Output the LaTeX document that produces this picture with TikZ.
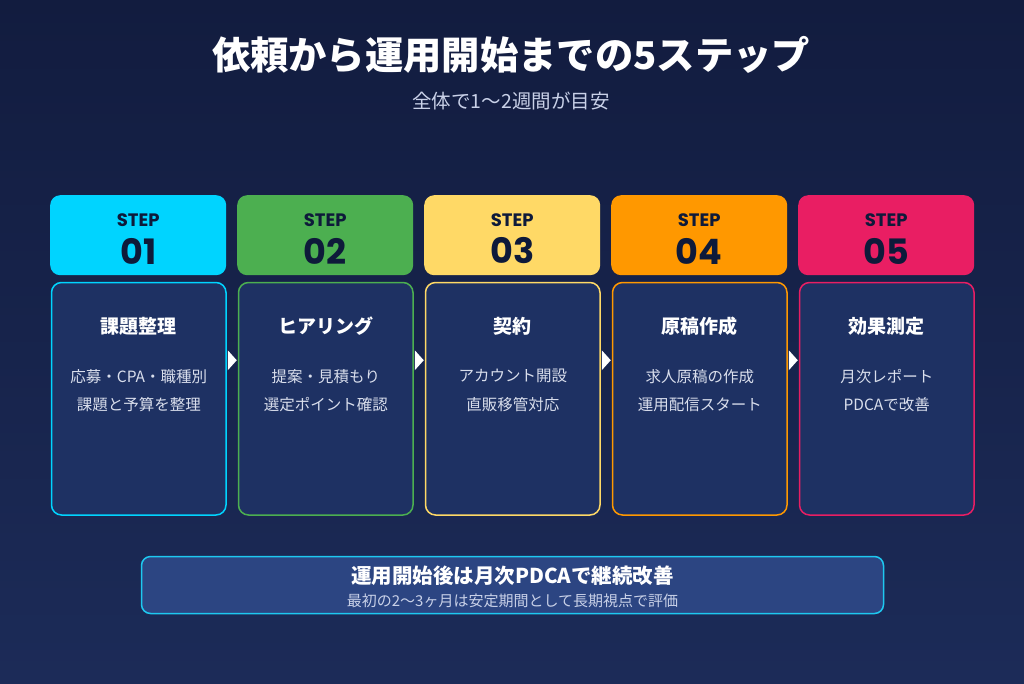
\documentclass[tikz,border=0pt]{standalone}
\usepackage{fontspec}
\setmainfont{Noto Sans CJK JP}
\newfontfamily\pop{Poppins}
\usetikzlibrary{calc}
\definecolor{bgtop}{HTML}{121C3F}
\definecolor{bgbot}{HTML}{1C2B58}
\definecolor{bodyfill}{HTML}{1E3163}
\definecolor{darktxt}{HTML}{0E1A3A}
\definecolor{subtxt}{HTML}{C9D1E8}
\definecolor{linetxt}{HTML}{D9DEEC}
\definecolor{cA}{HTML}{00D4FF}
\definecolor{cB}{HTML}{4CAF50}
\definecolor{cC}{HTML}{FFD966}
\definecolor{cD}{HTML}{FF9800}
\definecolor{cE}{HTML}{E91E63}
\definecolor{notefill}{HTML}{2C4582}
\definecolor{noteline}{HTML}{1EC8F0}
\tikzset{
  headbox/.style={rectangle, rounded corners=10pt, minimum width=176pt, minimum height=80pt, inner sep=0pt, anchor=north west},
  bodybox/.style={rectangle, rounded corners=10pt, minimum width=174.5pt, minimum height=232.5pt, inner sep=0pt, anchor=north west, fill=bodyfill, line width=1.5pt},
  steplbl/.style={font=\pop\bfseries\fontsize{18}{18}\selectfont, text=darktxt},
  stepnum/.style={font=\pop\bfseries\fontsize{35}{35}\selectfont, text=darktxt},
  bodytitle/.style={font=\bfseries\fontsize{19}{19}\selectfont, text=white},
  bodyline/.style={font=\fontsize{15.5}{15.5}\selectfont, text=linetxt},
  flowtri/.style={fill=white},
}
\begin{document}
\begin{tikzpicture}[x=1pt,y=-1pt]
\useasboundingbox (0,0) rectangle (1024,683);
\shade[top color=bgtop, bottom color=bgbot] (0,0) rectangle (1024,683);
\node[font=\bfseries\fontsize{38.3}{38.3}\selectfont, text=white] (title) at (511,55) {依頼から運用開始までの5ステップ};
\node[font=\fontsize{19.5}{19.5}\selectfont, text=subtxt] (subtitle) at (511,101) {全体で1〜2週間が目安};
\foreach \i/\c/\n/\t/\la/\lb in {
  1/cA/01/課題整理/応募・CPA・職種別/課題と予算を整理,
  2/cB/02/ヒアリング/提案・見積もり/選定ポイント確認,
  3/cC/03/契約/アカウント開設/直販移管対応,
  4/cD/04/原稿作成/求人原稿の作成/運用配信スタート,
  5/cE/05/効果測定/月次レポート/PDCAで改善}{
  \pgfmathsetmacro{\xx}{50+(\i-1)*187}
  \node[headbox, fill=\c] (h\i) at (\xx,195) {};
  \node[steplbl] (hs\i) at ($(h\i.north)+(0,25)$) {STEP};
  \node[stepnum] (hn\i) at ($(h\i.north)+(0,56)$) {\n};
  \node[bodybox, draw=\c] (b\i) at (\xx+0.75,281.75) {};
  \node[bodytitle] (bt\i) at ($(b\i.north)+(0,44.5)$) {\t};
  \node[bodyline] (bl\i) at ($(b\i.north)+(0,94.5)$) {\la};
  \node[bodyline] (bm\i) at ($(b\i.north)+(0,122.5)$) {\lb};
}
\foreach \i/\j in {1/2,2/3,3/4,4/5}{
  \coordinate (ta\i) at ($(b\i.north east)+(1,68.5)$);
  \coordinate (tb\i) at ($(b\i.north east)+(10,78.5)$);
  \coordinate (tc\i) at ($(b\i.north east)+(1,88.5)$);
  \fill[flowtri] (ta\i) -- (tb\i) -- (tc\i) -- cycle;
}
\node[rectangle, rounded corners=9pt, minimum width=742pt, minimum height=57pt, fill=notefill, draw=noteline, line width=1.5pt, inner sep=0pt] (note) at (512.5,585) {};
\node[font=\bfseries\fontsize{20.5}{20.5}\selectfont, text=white] (notetitle) at (512.5,576) {運用開始後は月次PDCAで継続改善};
\node[font=\fontsize{15}{15}\selectfont, text=subtxt] (notesub) at (512.5,601) {最初の2〜3ヶ月は安定期間として長期視点で評価};
\end{tikzpicture}
\end{document}
